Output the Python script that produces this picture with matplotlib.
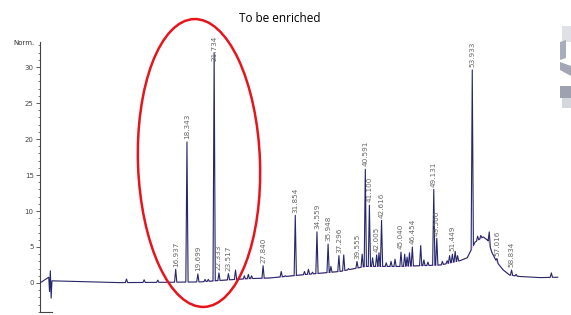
import numpy as np
import matplotlib
matplotlib.use('Agg')
import matplotlib.pyplot as plt
from matplotlib.patches import Ellipse, Rectangle, Polygon
from matplotlib.ticker import MultipleLocator

# labelled peaks: retention time (min) and apex height (Norm.)
peak_labels = ['16.937', '18.343', '19.699', '21.734', '22.333', '23.517', '27.840',
               '31.854', '34.559', '35.948', '37.296', '39.555', '40.591', '41.100',
               '42.005', '42.616', '45.040', '46.454', '49.131', '49.506', '51.449',
               '53.933', '57.016', '58.834']
peak_times = [float(s) for s in peak_labels]
peak_heights = [1.9, 19.6, 1.25, 32.0, 1.4, 1.3, 2.4,
                9.4, 7.1, 5.4, 3.8, 3.0, 15.8, 10.8,
                3.9, 8.7, 4.3, 5.0, 13.0, 6.2, 4.0,
                29.6, 3.4, 1.8]

# small unlabelled peaks
minor_times = [10.8, 13.0, 14.7, 20.6, 21.0, 24.4, 25.5, 26.0, 26.4, 30.1, 30.6,
               33.0, 33.5, 34.0, 36.3, 37.9, 38.5, 40.2, 41.5, 42.3, 43.2, 43.8,
               44.3, 45.5, 45.8, 46.1, 47.5, 47.9, 48.4, 50.2, 50.8, 51.1, 51.8,
               52.1, 54.6, 55.0, 56.05, 59.4, 63.8]
minor_heights = [0.55, 0.45, 0.4, 0.5, 0.5, 1.8, 1.0, 1.2, 1.0, 1.6, 1.0,
                 1.6, 1.9, 1.5, 2.3, 3.9, 2.0, 4.0, 3.5, 4.2, 2.8, 3.0,
                 3.3, 4.0, 3.6, 4.2, 5.2, 3.2, 2.9, 3.0, 3.1, 3.8, 4.4,
                 3.8, 6.5, 6.6, 7.1, 1.2, 1.4]

# baseline of the trace (incl. the late hump)
base_t = [0, 10, 16, 20, 23, 26, 28.7, 32.4, 37.4, 40.6, 45, 50, 52.4, 53.3,
          54.3, 55.3, 55.9, 56.4, 57.0, 57.8, 58.6, 59.9, 62.4, 64.6]
base_y = [0, 0.05, 0.1, 0.15, 0.4, 0.6, 0.7, 1.1, 1.6, 2.3, 2.3, 2.5, 3.1, 3.5,
          5.7, 6.4, 5.9, 4.2, 2.9, 1.8, 1.1, 0.9, 0.75, 0.8]

# solvent front spike
spike_t = [1.1, 1.2, 1.3, 1.4, 1.5]
spike_y = [0.8, -1.2, 1.7, -2.1, 0.3]

half_width = 0.14

all_t = peak_times + minor_times
all_h = peak_heights + minor_heights

# assemble the trace vertices
pts = []
for t, y in zip(base_t, base_y):
    if all(abs(t - p) > half_width for p in all_t) and not (1.0 < t < 1.6):
        pts.append((t, y))
pts += list(zip(spike_t, spike_y))
for t, h in zip(all_t, all_h):
    pts.append((t - half_width, np.interp(t - half_width, base_t, base_y)))
    pts.append((t, h))
    pts.append((t + half_width, np.interp(t + half_width, base_t, base_y)))
pts.sort()
trace_t = np.array([p[0] for p in pts])
trace_y = np.array([p[1] for p in pts])
trace_base = np.interp(trace_t, base_t, base_y)

fig = plt.figure(figsize=(5.71, 3.15), dpi=100)
ax = fig.add_axes([0.0699, 0.0102, 0.9266, 0.857])
ax.set_xlim(0, 66)
ax.set_ylim(-4, 33.5)

ax.fill_between(trace_t, trace_base, trace_y, where=trace_y > trace_base,
                color='#c4c4d4', lw=0, zorder=1)
mask = (trace_t > 20) & (trace_t < 60)
ax.plot(trace_t[mask], trace_base[mask], color='#e6a0e6', lw=0.5, zorder=2)
ax.plot(trace_t, trace_y, color='#26266a', lw=0.8, zorder=3)

for lab, t, h in zip(peak_labels, peak_times, peak_heights):
    y = min(h, 30.4)
    ax.annotate(lab, (t, y), xytext=(0, 2), textcoords='offset points',
                rotation=90, ha='center', va='bottom', fontsize=5.2,
                color='#666666', zorder=4)

for side in ['top', 'right']:
    ax.spines[side].set_visible(False)
ax.spines['bottom'].set_bounds(0, 1.5)
ax.spines['bottom'].set_color('#444444')
ax.spines['left'].set_color('#444444')
ax.spines['left'].set_linewidth(0.8)
ax.set_xticks([])
ax.yaxis.set_major_locator(MultipleLocator(5))
ax.yaxis.set_minor_locator(MultipleLocator(1))
ax.tick_params(axis='y', which='major', length=3, width=0.6, labelsize=5,
               colors='#444444', pad=1.5)
ax.tick_params(axis='y', which='minor', length=1.5, width=0.5, colors='#444444')
ax.set_yticks([0, 5, 10, 15, 20, 25, 30])
ax.text(-0.6, 33.3, 'Norm.', ha='right', va='center', fontsize=5, color='#333333')

# overlay in pixel coordinates for the hand-drawn ellipse and the page-edge smudge
ov = fig.add_axes([0, 0, 1, 1], zorder=10)
ov.set_xlim(0, 571)
ov.set_ylim(315, 0)
ov.axis('off')
ov.patch.set_alpha(0)
ov.add_patch(Ellipse((199, 163), 122, 288, angle=-2, fill=False,
                     edgecolor='#e8141c', lw=1.8))
ov.add_patch(Rectangle((562, 26), 9, 16, color='#dfe1e6', lw=0))
ov.add_patch(Polygon([(560, 42), (566, 40), (566, 58), (560, 60)],
                     color='#a9adba', lw=0))
ov.add_patch(Polygon([(560, 62), (571, 66), (571, 76), (560, 70)],
                     color='#a3a7b5', lw=0))
ov.add_patch(Rectangle((560, 86), 11, 12, color='#9da1b0', lw=0))
ov.add_patch(Rectangle((562, 98), 9, 10, color='#d5d7de', lw=0))

fig.text(280 / 571, 1 - 18 / 315, 'To be enriched', ha='center', va='center',
         fontsize=8.5, family='Open Sans')

plt.savefig('out.png', dpi=100)
